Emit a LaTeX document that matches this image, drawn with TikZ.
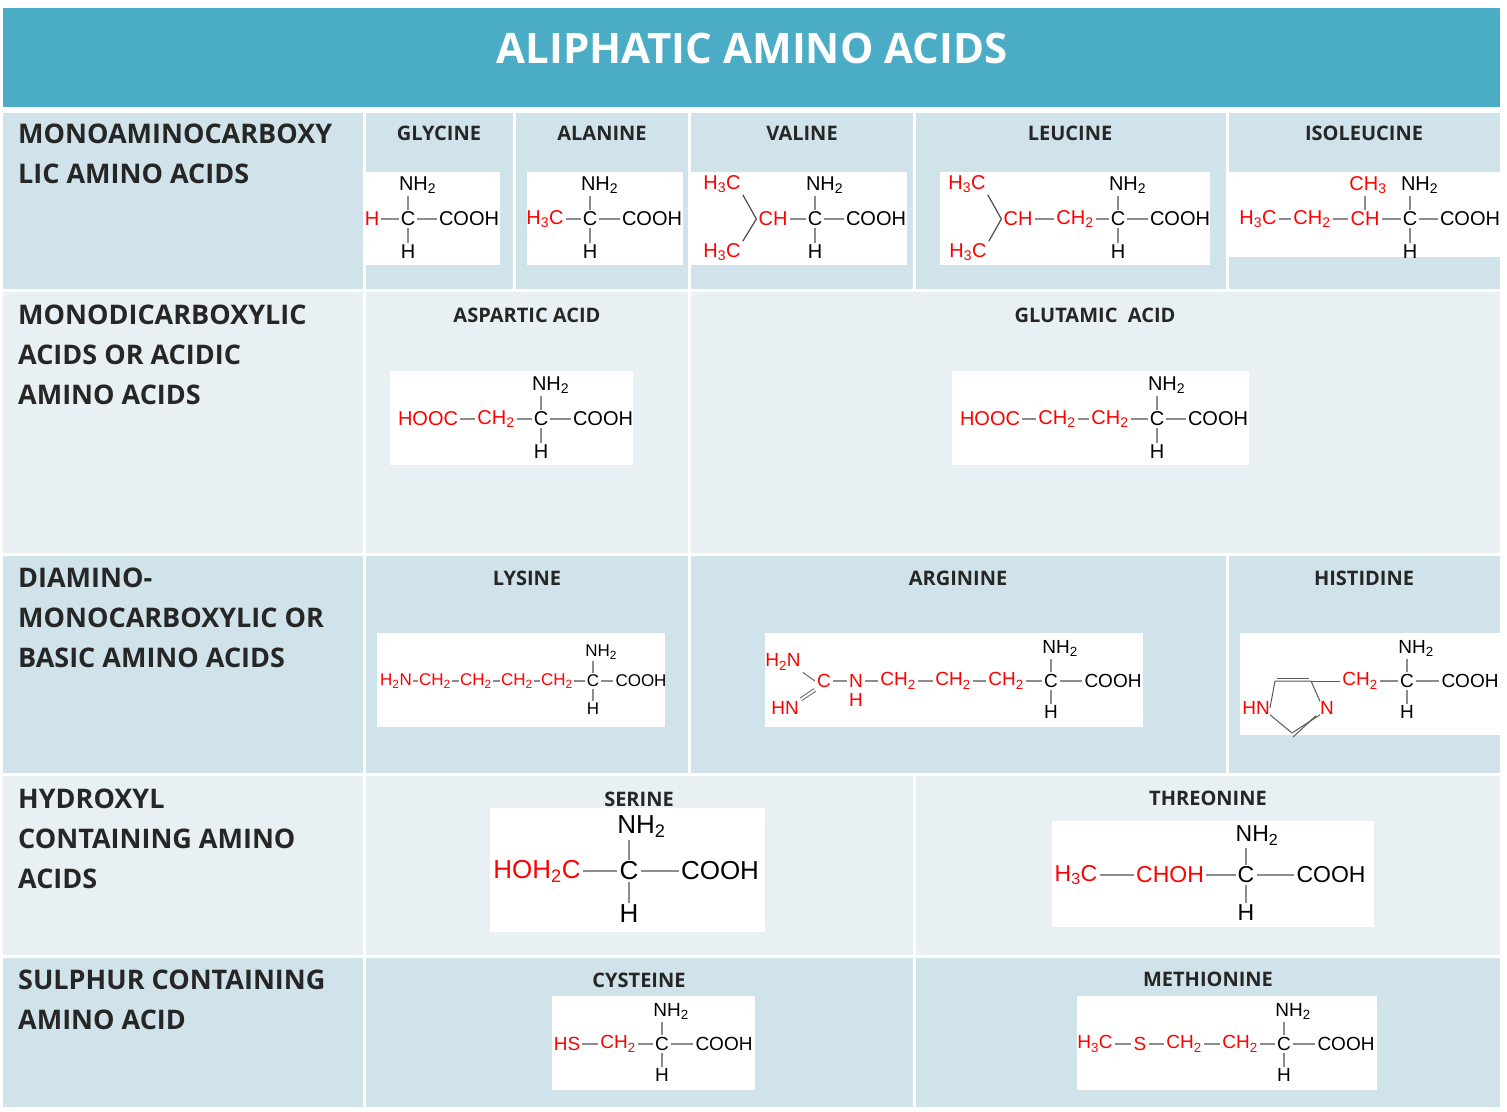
\documentclass[tikz,border=0pt]{standalone}
\usepackage{fontspec}
\setmainfont{Open Sans}
\newfontfamily\mf{Liberation Sans}
\newfontfamily\hf{Open Sans}
\begin{document}
\begin{tikzpicture}[x=1pt,y=-1pt]
\definecolor{titlec}{HTML}{4BACC6}
\definecolor{darkc}{HTML}{D0E3EA}
\definecolor{lightc}{HTML}{E8F0F3}
\definecolor{bondc}{HTML}{8C8C8C}
\definecolor{redc}{HTML}{FF0000}
\def\fsz{20}
\tikzset{
 g/.style={font=\mf\fontsize{\fsz}{\fsz}\selectfont,inner sep=2pt,text=black},
 r/.style={g,text=redc},
 bond/.style={draw=bondc,line width=1.2pt},
 ring/.style={draw=black!65,line width=1pt},
 wbox/.style={fill=white,draw=none},
 hdr/.style={font=\hf\bfseries\fontsize{20}{20}\selectfont,text=black!85},
 lab/.style={font=\hf\bfseries\fontsize{27}{40}\selectfont,anchor=north west,align=left,text=black!85,inner sep=0pt},
 sep/.style={draw=white,line width=3pt}
}
\newcommand\CC[3]{%
 \node[g] (#1) at (#2,#3) {C};
 \node[g] (#1n) at (#2+0.48*\fsz,#3-1.7*\fsz) {NH\textsubscript{2}};
 \node[g] (#1h) at (#2,#3+1.65*\fsz) {H};
 \draw[bond] (#1.north) -- (#1.north |- #1n.south);
 \draw[bond] (#1.south) -- (#1h.north);}
\useasboundingbox (0,0) rectangle (1507,1111);
\fill[white] (0,0) rectangle (1507,1111);
\fill[titlec] (3,8) rectangle (1500,107);
\node[font=\hf\bfseries\fontsize{42}{42}\selectfont,text=white] (title) at (752,48) {ALIPHATIC AMINO ACIDS};
% rows
\fill[darkc] (3,113) rectangle (1500,290);
\fill[lightc] (3,290) rectangle (1500,554);
\fill[darkc] (3,554) rectangle (1500,774);
\fill[lightc] (3,774) rectangle (1500,956);
\fill[darkc] (3,956) rectangle (1500,1107);
\foreach \yy in {290,554,774,956} \draw[sep] (3,\yy) -- (1500,\yy);
\draw[sep] (364,113) -- (364,1107);
\foreach \xx in {514,689,914,1227} \draw[sep] (\xx,113) -- (\xx,290);
\draw[sep] (689,290) -- (689,554);
\draw[sep] (689,554) -- (689,774);
\draw[sep] (1227,554) -- (1227,774);
\draw[sep] (914,774) -- (914,1107);
% left labels
\node[lab] (l1) at (18,124) {MONOAMINOCARBOXY\\LIC AMINO ACIDS};
\node[lab] (l2) at (18,305) {MONODICARBOXYLIC\\ACIDS OR ACIDIC\\AMINO ACIDS};
\node[lab] (l3) at (18,568) {DIAMINO-\\MONOCARBOXYLIC OR\\BASIC AMINO ACIDS};
\node[lab] (l4) at (18,789) {HYDROXYL\\CONTAINING AMINO\\ACIDS};
\node[lab] (l5) at (18,970) {SULPHUR CONTAINING\\AMINO ACID};
% headers
\node[hdr] (h1) at (439,133) {GLYCINE};
\node[hdr] (h2) at (602,133) {ALANINE};
\node[hdr] (h3) at (802,133) {VALINE};
\node[hdr] (h4) at (1070,133) {LEUCINE};
\node[hdr] (h5) at (1364,133) {ISOLEUCINE};
\node[hdr] (h6) at (527,315) {ASPARTIC ACID};
\node[hdr] (h7) at (1095,315) {GLUTAMIC\ \ ACID};
\node[hdr] (h8) at (527,578) {LYSINE};
\node[hdr] (h9) at (958,578) {ARGININE};
\node[hdr] (h10) at (1364,578) {HISTIDINE};
\node[hdr] (h11) at (639,799) {SERINE};
\node[hdr] (h12) at (1208,798) {THREONINE};
\node[hdr] (h13) at (639,980) {CYSTEINE};
\node[hdr] (h14) at (1208,979) {METHIONINE};
% white boxes
\fill[wbox] (365,172) rectangle (500,265);
\fill[wbox] (527,172) rectangle (683,265);
\fill[wbox] (690,172) rectangle (907,265);
\fill[wbox] (940,172) rectangle (1210,265);
\fill[wbox] (1228,172) rectangle (1500,257);
\fill[wbox] (390,371) rectangle (633,465);
\fill[wbox] (952,371) rectangle (1249,465);
\fill[wbox] (377,633) rectangle (665,727);
\fill[wbox] (765,633) rectangle (1143,727);
\fill[wbox] (1240,633) rectangle (1500,735);
\fill[wbox] (490,808) rectangle (765,932);
\fill[wbox] (1052,821) rectangle (1374,927);
\fill[wbox] (552,996) rectangle (755,1090);
\fill[wbox] (1077,996) rectangle (1377,1090);
% glycine
\def\fsz{20}
\CC{gc}{408}{219}
\node[r] (g1) at (372,219) {H};
\node[g] (g2) at (469,219) {COOH};
\draw[bond] (g1) -- (gc); \draw[bond] (gc) -- (g2);
% alanine
\CC{ac}{590}{219}
\node[r] (a1) at (545,219) {H\textsubscript{3}C};
\node[g] (a2) at (652,219) {COOH};
\draw[bond] (a1) -- (ac); \draw[bond] (ac) -- (a2);
% valine
\CC{vc}{815}{219}
\node[r] (v1) at (722,184) {H\textsubscript{3}C};
\node[r] (v2) at (722,252) {H\textsubscript{3}C};
\node[r] (v3) at (773,219) {CH};
\node[g] (v4) at (876,219) {COOH};
\draw[bond,draw=black!70] (v1.south east) -- (v3.west); \draw[bond,draw=black!70] (v3.west) -- (v2.north east);
\draw[bond] (v3) -- (vc); \draw[bond] (vc) -- (v4);
% leucine
\CC{lc}{1118}{219}
\node[r] (e1) at (967,184) {H\textsubscript{3}C};
\node[r] (e2) at (968,252) {H\textsubscript{3}C};
\node[r] (e3) at (1018,219) {CH};
\node[r] (e4) at (1075,219) {CH\textsubscript{2}};
\node[g] (e5) at (1180,219) {COOH};
\draw[bond,draw=black!70] (e1.south east) -- (e3.west); \draw[bond,draw=black!70] (e3.west) -- (e2.north east);
\draw[bond] (e3) -- (e4); \draw[bond] (e4) -- (lc); \draw[bond] (lc) -- (e5);
% isoleucine
\CC{ic}{1410}{219}
\node[r] (i1) at (1258,219) {H\textsubscript{3}C};
\node[r] (i2) at (1312,219) {CH\textsubscript{2}};
\node[r] (i3) at (1365,219) {CH};
\node[r] (i4) at (1368,185) {CH\textsubscript{3}};
\node[g] (i5) at (1470,219) {COOH};
\draw[bond] (i1) -- (i2); \draw[bond] (i2) -- (i3); \draw[bond] (i3) -- (ic); \draw[bond] (ic) -- (i5);
\draw[bond] (i3.north) -- (i3.north |- i4.south);
% aspartic
\CC{dc}{541}{419}
\node[r] (d1) at (428,419) {HOOC};
\node[r] (d2) at (496,419) {CH\textsubscript{2}};
\node[g] (d3) at (603,419) {COOH};
\draw[bond] (d1) -- (d2); \draw[bond] (d2) -- (dc); \draw[bond] (dc) -- (d3);
% glutamic
\CC{uc}{1157}{419}
\node[r] (u1) at (990,419) {HOOC};
\node[r] (u2) at (1057,419) {CH\textsubscript{2}};
\node[r] (u3) at (1110,419) {CH\textsubscript{2}};
\node[g] (u4) at (1218,419) {COOH};
\draw[bond] (u1) -- (u2); \draw[bond] (u2) -- (u3); \draw[bond] (u3) -- (uc); \draw[bond] (uc) -- (u4);
% lysine
\def\fsz{17}
\tikzset{kk/.style={inner sep=0.5pt}}
\CC{kc}{593}{681}
\node[r,kk] (k1) at (396,681) {H\textsubscript{2}N};
\node[r,kk] (k2) at (435,681) {CH\textsubscript{2}};
\node[r,kk] (k3) at (476,681) {CH\textsubscript{2}};
\node[r,kk] (k4) at (517,681) {CH\textsubscript{2}};
\node[r,kk] (k5) at (557,681) {CH\textsubscript{2}};
\node[g] (k6) at (641,681) {COOH};
\draw[bond] (k1) -- (k2); \draw[bond] (k2) -- (k3); \draw[bond] (k3) -- (k4); \draw[bond] (k4) -- (k5); \draw[bond] (k5) -- (kc); \draw[bond] (kc) -- (k6);
% arginine
\def\fsz{19}
\CC{rc}{1051}{681}
\node[r] (q1) at (783,662) {H\textsubscript{2}N};
\node[r] (q2) at (785,708) {HN};
\node[r] (q3) at (824,681) {C};
\node[r] (q4) at (856,681) {N};
\node[r] (q5) at (856,700) {H};
\node[r] (q6) at (898,681) {CH\textsubscript{2}};
\node[r] (q7) at (953,681) {CH\textsubscript{2}};
\node[r] (q8) at (1006,681) {CH\textsubscript{2}};
\node[g] (q9) at (1113,681) {COOH};
\draw[bond,draw=black!60,line width=1pt] (q1.south east) -- (q3.west);
\draw[bond,draw=black!60,line width=1pt,double distance=2pt,draw=black!60] (q2.north east) -- (q3.south west);
\draw[bond] (q3) -- (q4); \draw[bond] (q4) -- (q6); \draw[bond] (q6) -- (q7); \draw[bond] (q7) -- (q8); \draw[bond] (q8) -- (rc); \draw[bond] (rc) -- (q9);
% histidine
\def\fsz{19}
\CC{hc}{1407}{681}
\coordinate (p1) at (1275,681);
\coordinate (p2) at (1311,681);
\node[r,inner sep=0pt] (p3) at (1327,708) {N};
\coordinate (p4) at (1292,733);
\node[r,inner sep=0pt] (p5) at (1256,708) {HN};
\draw[ring] (p5.east) -- (p1) -- (p2) -- (p3.north west);
\draw[ring] ([xshift=2pt,yshift=3pt]p1) -- ([xshift=-2pt,yshift=3pt]p2);
\draw[ring] (p3.south west) -- (p4) -- (p5.south east);
\draw[ring] ([xshift=-4pt,yshift=-1pt]p3.south west) -- ([xshift=1pt,yshift=-4pt]p4);
\node[r] (hs1) at (1360,681) {CH\textsubscript{2}};
\node[g] (hs2) at (1470,681) {COOH};
\draw[ring] (p2) -- (hs1.west);
\draw[bond] (hs1) -- (hc); \draw[bond] (hc) -- (hs2);
% serine
\def\fsz{26}
\CC{sc}{629}{871}
\node[r] (s1) at (537,871) {HOH\textsubscript{2}C};
\node[g] (s2) at (720,871) {COOH};
\draw[bond] (s1) -- (sc); \draw[bond] (sc) -- (s2);
% threonine
\def\fsz{23}
\CC{tc}{1246}{875}
\node[r] (t1) at (1076,875) {H\textsubscript{3}C};
\node[r] (t2) at (1170,875) {CHOH};
\node[g] (t3) at (1331,875) {COOH};
\draw[bond] (t1) -- (t2); \draw[bond] (t2) -- (tc); \draw[bond] (tc) -- (t3);
% cysteine
\def\fsz{19}
\CC{cc}{662}{1044}
\node[r] (c1) at (567,1044) {HS};
\node[r] (c2) at (618,1044) {CH\textsubscript{2}};
\node[g] (c3) at (724,1044) {COOH};
\draw[bond] (c1) -- (c2); \draw[bond] (c2) -- (cc); \draw[bond] (cc) -- (c3);
% methionine
\CC{mc}{1284}{1044}
\node[r] (m1) at (1095,1044) {H\textsubscript{3}C};
\node[r] (m2) at (1140,1044) {S};
\node[r] (m3) at (1184,1044) {CH\textsubscript{2}};
\node[r] (m4) at (1240,1044) {CH\textsubscript{2}};
\node[g] (m5) at (1346,1044) {COOH};
\draw[bond] (m1) -- (m2); \draw[bond] (m2) -- (m3); \draw[bond] (m3) -- (m4); \draw[bond] (m4) -- (mc); \draw[bond] (mc) -- (m5);
\end{tikzpicture}
\end{document}
